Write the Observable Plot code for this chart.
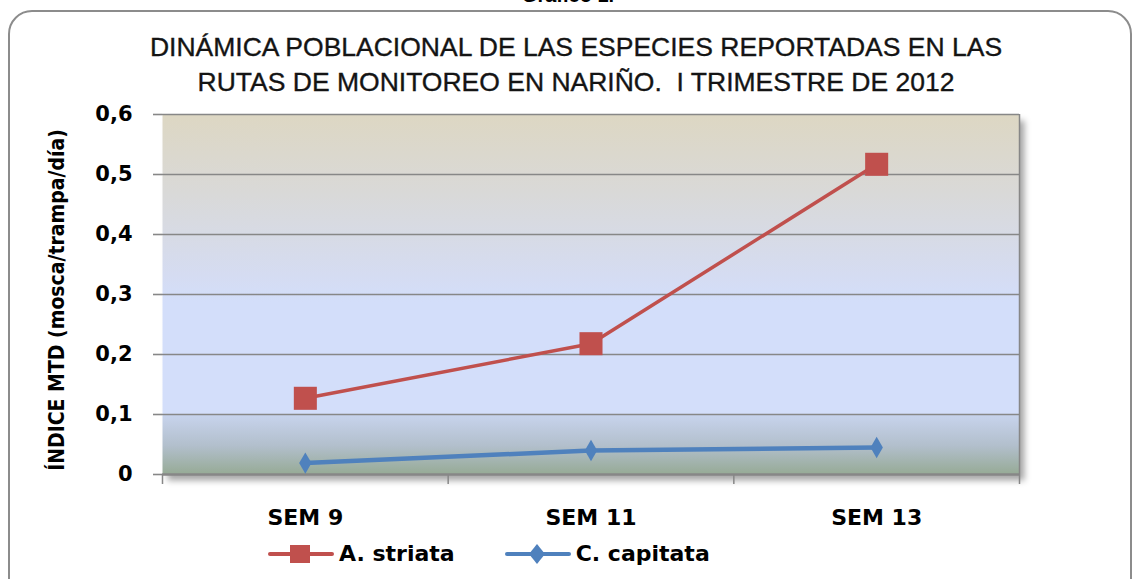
<!DOCTYPE html>
<html><head><meta charset="utf-8">
<script src="https://cdn.jsdelivr.net/npm/d3@7"></script>
<script src="https://cdn.jsdelivr.net/npm/@observablehq/plot@0.6"></script>
<style>
body{margin:0;background:#fff;}
#wrap{position:relative;width:1136px;height:579px;overflow:hidden;background:#fff;font-family:"DejaVu Sans",sans-serif;color:#000;}
#border{position:absolute;left:8px;top:10px;width:1120px;height:640px;border:2px solid #8c8c8c;border-radius:24px;}
#fig{position:absolute;left:0;top:-16px;width:1136px;text-align:center;font:bold 20px "Liberation Sans",sans-serif;}
#title{position:absolute;left:16px;top:30px;width:1120px;text-align:center;font:26.5px/35px "Liberation Sans",sans-serif;color:#141414;-webkit-text-stroke:0.35px #141414;}
#chart{position:absolute;left:0;top:0;}
#ylab{position:absolute;left:57px;top:300px;transform:translate(-50%,-50%) rotate(-90deg);white-space:nowrap;font:bold 21px "DejaVu Sans Condensed","DejaVu Sans",sans-serif;font-stretch:condensed;}
#legend{position:absolute;left:268px;top:541px;display:flex;align-items:center;font:bold 22px "DejaVu Sans",sans-serif;}
#legend .item{display:flex;align-items:center;margin-right:50px;}
#legend svg{margin-right:5px;}
</style></head><body>
<div id="wrap">
  <div id="border"></div>
  <div id="fig">Gráfico 1.</div>
  <div id="title"></div>
  <div id="chart"></div>
  <div id="ylab"></div>
  <div id="legend"></div>
</div>
<script>
const titleLines = ["DINÁMICA POBLACIONAL DE LAS ESPECIES REPORTADAS EN LAS", "RUTAS DE MONITOREO EN NARIÑO.  I TRIMESTRE DE 2012"];
const yLabel = "ÍNDICE MTD (mosca/trampa/día)";
const weeks = ["SEM 9", "SEM 11", "SEM 13"];
const seriesNames = ["A. striata", "C. capitata"];
const seriesColors = ["#c0504d", "#4f81bd"];
const aStriata = [0.127, 0.218, 0.517];
const cCapitata = [0.019, 0.040, 0.045];
const yTicks = [0, 0.1, 0.2, 0.3, 0.4, 0.5, 0.6];

document.getElementById("title").innerHTML = titleLines.join("<br>").replace("  ", "&nbsp; ");
document.getElementById("ylab").textContent = yLabel;

const rows = [];
weeks.forEach((w, i) => {
  rows.push({week: w, pos: i + 0.5, value: aStriata[i], series: seriesNames[0]});
  rows.push({week: w, pos: i + 0.5, value: cCapitata[i], series: seriesNames[1]});
});
const rowsA = rows.filter(d => d.series === seriesNames[0]);
const rowsC = rows.filter(d => d.series === seriesNames[1]);
const bounds = d3.range(weeks.length + 1);
const centers = weeks.map((w, i) => i + 0.5);
const fmt = d => d === 0 ? "0" : d.toFixed(1).replace(".", ",");
const grey = "#878787";

const chart = Plot.plot({
  width: 1136, height: 579,
  marginTop: 114, marginBottom: 105, marginLeft: 162, marginRight: 117,
  style: {background: "transparent", fontFamily: "DejaVu Sans, sans-serif", fontSize: "21px", fontWeight: "bold", color: "#000", overflow: "visible"},
  x: {domain: [0, weeks.length], axis: null},
  y: {domain: [0, 0.6], axis: null},
  color: {domain: seriesNames, range: seriesColors},
  marks: [
    Plot.frame({fill: "url(#bgGrad)", stroke: "none"}),
    Plot.gridY(yTicks.slice(1), {stroke: grey, strokeOpacity: 1, strokeWidth: 1.6}),
    Plot.axisY(yTicks, {tickSize: 9, tickPadding: 21, tickFormat: fmt, stroke: grey, strokeWidth: 1.6, label: null, fill: "#000"}),
    Plot.ruleX([weeks.length], {stroke: grey, strokeWidth: 1.5}),
    Plot.ruleY([0], {stroke: grey, strokeWidth: 2.5}),
    Plot.axisX(bounds, {tickSize: 10, tickFormat: () => "", stroke: grey, strokeWidth: 1.5, label: null}),
    Plot.axisX(centers, {tickSize: 0, tickPadding: 35, tickFormat: (d) => weeks[Math.floor(d)], label: null, fill: "#000", fontSize: 22}),
    Plot.line(rowsA, {x: "pos", y: "value", stroke: "series", strokeWidth: 3.5}),
    Plot.line(rowsC, {x: "pos", y: "value", stroke: "series", strokeWidth: 4.5}),
    Plot.dot(rowsA, {x: "pos", y: "value", fill: "series", symbol: "square", r: 13, stroke: "none"}),
    Plot.dot(rowsC, {x: "pos", y: "value", fill: "series", symbol: "diamond", r: 6.5, stroke: "none"})
  ]
});

const svg = d3.select(chart);
const defs = svg.insert("defs", ":first-child");
const g = defs.append("linearGradient").attr("id", "bgGrad").attr("x1", 0).attr("y1", 0).attr("x2", 0).attr("y2", 1);
[[0, "#ddd7c3"], [0.22, "#d9d9d8"], [0.45, "#d5dcf2"], [0.52, "#d3defa"], [0.832, "#d3defa"], [0.836, "#c7d3ec"], [0.92, "#b2bfcc"], [1, "#96aa95"]]
  .forEach(([o, c]) => g.append("stop").attr("offset", o).attr("stop-color", c));
const f = defs.append("filter").attr("id", "sh").attr("x", "-5%").attr("y", "-5%").attr("width", "112%").attr("height", "120%");
f.append("feDropShadow").attr("dx", 5).attr("dy", 6).attr("stdDeviation", 3).attr("flood-color", "#000").attr("flood-opacity", 0.35);
svg.select('[aria-label="frame"]').attr("filter", "url(#sh)");
document.getElementById("chart").appendChild(chart);

// legend
const leg = document.getElementById("legend");
seriesNames.forEach((name, i) => {
  const item = document.createElement("div");
  item.className = "item";
  const marker = i === 0
    ? `<rect x="22" y="1" width="20" height="18" fill="${seriesColors[i]}"/>`
    : `<path d="M32,0 L40,10 L32,20 L24,10 Z" fill="${seriesColors[i]}"/>`;
  item.innerHTML = `<svg width="66" height="20"><line x1="2" y1="10" x2="64" y2="10" stroke="${seriesColors[i]}" stroke-width="4" stroke-linecap="round"/>${marker}</svg><span>${name}</span>`;
  leg.appendChild(item);
});
</script>
</body></html>
